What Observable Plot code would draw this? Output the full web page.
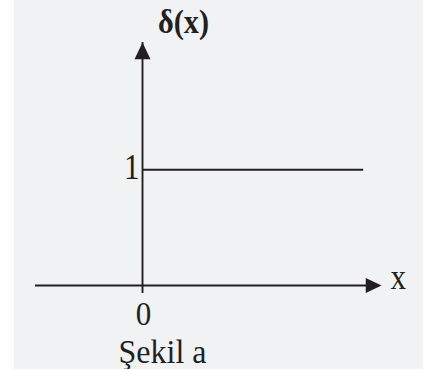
<!DOCTYPE html>
<html>
<head>
<meta charset="utf-8">
<script src="https://cdn.jsdelivr.net/npm/d3@7"></script>
<script src="https://cdn.jsdelivr.net/npm/@observablehq/plot@0.6"></script>
<style>
  html, body { margin: 0; padding: 0; background: #ffffff; }
  #chart { position: absolute; left: 14px; top: 0; width: 409px; height: 369px; background: #f1f2f4; overflow: hidden; }
  #chart svg { display: block; }
</style>
</head>
<body>
<div id="chart"></div>
<script>
// ---- data ----
const xDomain = [-3, 6.7];          // horizontal axis extent (arrow tip at right end)
const yDomain = [0, 2.1];           // vertical axis extent (arrow tip at top)
const stepStart = [0];              // step begins at x = 0
const stepEnd = [6.2];              // drawn segment ends here
const stepValue = [1];              // δ(x) = 1 for x >= 0
const xTickValues = [0];
const xTickLabels = ["0"];
const yTickValues = [1];
const yTickLabels = ["1"];
const yAxisLabel = ["δ(x)"];
const xAxisLabel = ["x"];
const captionText = ["Şekil a"];

const ink = "#231f20";
const font = "'Liberation Serif', 'Times New Roman', serif";

// arrowhead symbol with tip at origin, pointing up
const arrowHead = {
  draw(ctx, size) {
    const r = Math.sqrt(size / Math.PI);
    ctx.moveTo(0, 0);
    ctx.lineTo(-r, 2.1 * r);
    ctx.lineTo(r, 2.1 * r);
    ctx.closePath();
  }
};

const chart = Plot.plot({
  width: 409,
  height: 370,
  margin: 0,
  style: {background: "transparent", fontFamily: font, color: ink},
  x: {domain: xDomain, range: [21, 367], axis: null},
  y: {domain: yDomain, range: [285, 42], axis: null},
  marks: [
    // horizontal axis
    Plot.ruleY([yDomain[0]], {x1: xDomain[0], x2: xDomain[1], stroke: ink, strokeWidth: 1.9, insetRight: 8}),
    // vertical axis
    Plot.ruleX([0], {y1: yDomain[0], y2: yDomain[1], stroke: ink, strokeWidth: 1.9, insetTop: 8}),
    // step function value
    Plot.ruleY(stepValue, {x1: stepStart[0], x2: stepEnd[0], stroke: ink, strokeWidth: 1.9}),
    // arrowheads
    Plot.dot([0], {x: (d) => d, y: yDomain[1], symbol: arrowHead, r: 8, fill: ink, stroke: "none"}),
    Plot.dot([yDomain[0]], {x: xDomain[1], y: (d) => d, symbol: arrowHead, r: 7.5, fill: ink, stroke: "none", rotate: 90}),
    // tick labels
    Plot.text(yTickValues, {x: 0, y: (d) => d, text: (d, i) => yTickLabels[i], textAnchor: "end", lineAnchor: "bottom", dx: -3, dy: 9, fontSize: 35, fill: ink, className: "narrow"}),
    Plot.text(xTickValues, {x: (d) => d, y: 0, text: (d, i) => xTickLabels[i], textAnchor: "middle", lineAnchor: "bottom", dx: 1, dy: 39, fontSize: 33, fill: ink, className: "narrow2"}),
    // axis labels
    Plot.text(xAxisLabel, {x: xDomain[1], y: 0, text: (d) => d, textAnchor: "start", lineAnchor: "bottom", dx: 9, dy: 3, fontSize: 35, fill: ink, className: "narrow"}),
    Plot.text(yAxisLabel, {x: 0, y: yDomain[1], text: (d) => d, textAnchor: "middle", lineAnchor: "bottom", dx: 41, dy: -10, fontSize: 34, fontWeight: "bold", fill: ink, className: "narrow"}),
    // caption
    Plot.text(captionText, {x: 0, y: 0, text: (d) => d, textAnchor: "middle", lineAnchor: "bottom", dx: 20, dy: 77, fontSize: 34, fill: ink, className: "narrow2"})
  ]
});
// the reference lettering is slightly condensed horizontally
const condense = (sel, k) => chart.querySelectorAll(sel).forEach((t) => {
  const tr = t.getAttribute("transform") || "";
  t.setAttribute("transform", (tr + ` scale(${k},1)`).trim());
});
condense("g.narrow text", 0.89);
condense("g.narrow2 text", 0.94);
document.getElementById("chart").appendChild(chart);
</script>
</body>
</html>
